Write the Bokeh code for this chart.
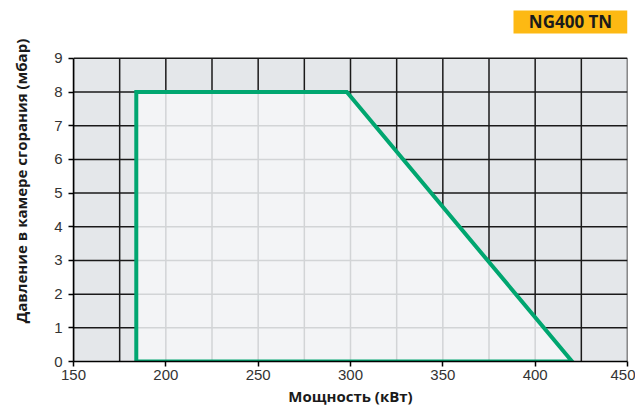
import numpy as np
from bokeh.plotting import figure
from bokeh.models import Range1d, SingleIntervalTicker, FixedTicker
from bokeh.core.properties import value
from bokeh.embed import file_html
from bokeh.resources import INLINE

# ---- data ----
power = [184, 184, 298, 420]      # kW
pressure = [0, 8, 8, 0]           # mbar
x_ticks = [150, 200, 250, 300, 350, 400, 450]
y_ticks = [0, 1, 2, 3, 4, 5, 6, 7, 8, 9]
grid_step_x = 25

title_text = "NG400 TN"
x_label = "Мощность (кВт)"
y_label = "Давление в камере сгорания (мбар)"

OUT_BG = "#e4e7ea"
IN_BG = "#f3f4f6"
GREEN = "#00a670"
ORANGE = "#fdb913"
GRID_DARK = "#1a1a1a"

# layout (pixels)
FRAME_W, FRAME_H_PLOT, TOP_SPACE = 554, 304, 58
x0, x1 = x_ticks[0], x_ticks[-1]
y0, y1 = y_ticks[0], y_ticks[-1]
y_max = y1 + TOP_SPACE * (y1 - y0) / FRAME_H_PLOT   # extra room above the plot for the badge

p = figure(width=635, height=408, output_backend="svg", toolbar_location=None,
           x_range=Range1d(x0, x1), y_range=Range1d(y0, y_max),
           min_border_left=73, min_border_right=8, min_border_top=0, min_border_bottom=30)
p.background_fill_color = "white"
p.border_fill_color = "white"
p.outline_line_color = None
p.xgrid.visible = False
p.ygrid.visible = False

p.xaxis.ticker = SingleIntervalTicker(interval=50, num_minor_ticks=0)
p.yaxis.ticker = FixedTicker(ticks=y_ticks)
p.yaxis.bounds = (y0, y1)
for ax in (p.xaxis[0], p.yaxis[0]):
    ax.axis_line_color = "black"
    ax.axis_line_width = 1.5
    ax.major_tick_line_color = "black"
    ax.major_tick_line_width = 1.5
    ax.major_tick_out = 5
    ax.major_tick_in = 0
    ax.minor_tick_line_color = None
    ax.major_label_text_font = "Liberation Sans"
    ax.major_label_text_font_size = "15px"
    ax.major_label_text_color = "#333333"
    ax.axis_label_text_font = "Open Sans"
    ax.axis_label_text_font_style = "bold"
    ax.axis_label_text_font_size = "15px"
    ax.axis_label_text_color = "#1a1a1a"
p.xaxis.axis_label = x_label
p.yaxis.axis_label = y_label
p.xaxis.axis_label_standoff = 3
p.yaxis.axis_label_standoff = 20
p.xaxis.major_label_standoff = 3
p.yaxis.major_label_standoff = 6

# plot background and dark grid (limited to the value area)
p.quad(left=[x0], right=[x1], bottom=[y0], top=[y1], fill_color=OUT_BG, line_color=None)
gxs = np.arange(x0, x1 + 1, grid_step_x)
p.segment(gxs, [y0] * len(gxs), gxs, [y1] * len(gxs), line_color=GRID_DARK, line_width=1.5)
gys = np.array(y_ticks[1:])
p.segment([x0] * len(gys), gys, [x1] * len(gys), gys, line_color=GRID_DARK, line_width=1.5)

# inner light region
p.patch(power, pressure, fill_color=IN_BG, line_color=None)

# light grid lines inside the polygon
x_left, x_tr, x_br = power[1], power[2], power[3]
y_top = pressure[1]
vx0, vy0, vx1, vy1 = [], [], [], []
for gx in gxs:
    if x_left < gx < x_br:
        top = y_top if gx <= x_tr else y_top * (x_br - gx) / (x_br - x_tr)
        vx0.append(gx); vy0.append(0); vx1.append(gx); vy1.append(top)
for gy in y_ticks:
    if 0 < gy < y_top:
        xr = x_br - gy * (x_br - x_tr) / y_top
        vx0.append(x_left); vy0.append(gy); vx1.append(xr); vy1.append(gy)
p.segment(vx0, vy0, vx1, vy1, line_color="#d2d4d6", line_width=1.5)

# outline
p.patch(power, pressure, fill_color=None, line_color=GREEN, line_width=4, line_join="miter")

# badge in the top-right corner
px_x = (x1 - x0) / FRAME_W
px_y = (y1 - y0) / FRAME_H_PLOT
badge_w_px, badge_h_px = 114, 23
bx = x1 - (badge_w_px / 2) * px_x
by = y_max - (10 + badge_h_px / 2) * px_y
p.rect(x=[bx], y=[by], width=badge_w_px, height=badge_h_px, width_units="screen",
       height_units="screen", fill_color=ORANGE, line_color=None)
p.text(x=[bx], y=[by], text=[title_text], text_align="center", text_baseline="middle",
       text_font=value("Open Sans"), text_font_style="bold", text_font_size="17px",
       text_color="#1a1a1a")

open("out.html", "w").write(file_html(p, INLINE))
